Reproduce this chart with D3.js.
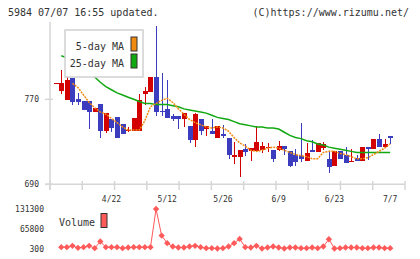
<!DOCTYPE html>
<html>
<head>
<meta charset="utf-8">
<script src="https://cdn.jsdelivr.net/npm/d3@7"></script>
<style>
  html, body { margin: 0; padding: 0; background: #fff; }
  svg { display: block; font-family: "DejaVu Sans Mono", monospace; }
</style>
</head>
<body>
<div id="chart"></div>
<script>
// daily prices, oldest first (61 sessions)
const open  = [785,778,769,790,770,768,768,758,766,740,751,753,747,740,740,740,775,777,791,759,761,754,754,751,745,732,751,742,740,734,737,734,716,716,723,721,721,722,724,722,722,726,721,718,717,712,722,720,724,714,707,721,718,711,715,712,725,723,733,725,735];
const high  = [785,798,793,790,776,768,768,762,766,757,751,753,747,744,752,775,782,791,839,795,788,756,754,757,745,757,751,745,751,745,746,734,730,722,728,724,745,730,729,722,731,726,721,723,748,729,732,729,730,721,721,721,725,723,718,725,725,733,737,733,735];
const low   = [785,775,769,765,765,760,742,758,734,738,739,734,737,739,740,740,765,777,754,754,752,750,742,744,729,725,736,735,737,734,734,714,709,697,717,712,721,719,720,711,721,718,706,707,711,712,720,720,722,701,707,714,710,711,712,712,713,723,725,725,728];
const close = [785,785,788,767,767,760,758,762,740,757,743,734,737,741,752,769,778,791,758,758,752,751,751,757,732,756,740,745,737,745,735,718,718,722,720,724,730,726,725,714,726,723,707,711,714,719,720,729,728,706,721,714,710,712,712,725,723,733,725,728,734];

// moving averages (null = not drawn)
const ma5  = [null,null,null,785,781,774,767,762,758,756,752,748,744,741,741,741,750,763,766,769,771,767,761,756,751,748,746,744,743,744,743,740,734,729,726,722,721,722,724,725,724,722,720,718,717,716,714,714,720,721,721,719,718,716,714,714,715,718,721,724,728];
const ma25 = [null,811,809,806,802,798,795,791,786,782,779,776,774,772,770,768,766,766,765,765,765,764,763,761,760,759,758,757,755,753,752,751,749,747,746,745,744,744,743,743,742,739,736,734,733,731,730,728,727,725,724,723,722,721,720,720,720,720,720,720,720];

// traded volume (null = no marker)
const volume = [null,4700,4700,9100,2500,4700,9100,1400,23400,4700,4700,4700,1400,3600,4700,4700,4700,4700,131300,43200,17900,6900,3600,3600,6900,9100,4700,1400,1400,300,1400,6900,17900,32200,4700,3600,9100,300,3600,6900,3600,300,3600,3600,1400,1400,3600,1400,6900,31100,300,1400,3600,3600,3600,1400,1400,3600,3600,1400,1400];

// x labels sit on every 10th session
const tickIndex  = [10, 20, 30, 40, 50, 60];
const tickLabels = ['4/22', '5/12', '5/26', '6/9', '6/23', '7/7'];
const priceTicks = [690, 770];

const W = 420, H = 259;
const RED = '#d20000', BLUE = '#3c3cbe', GRID = '#d6d6d6';

const svg = d3.select('#chart').append('svg')
  .attr('width', W).attr('height', H);

// header
svg.append('text').attr('x', 8).attr('y', 16)
  .attr('font-size', 10).attr('fill', '#333')
  .text('5984 07/07 16:55 updated.');
svg.append('text').attr('x', 409).attr('y', 16)
  .attr('font-size', 10).attr('fill', '#333').attr('text-anchor', 'end')
  .text('(C)https://www.rizumu.net/');

const x = d3.scaleLinear().domain([0, 60]).range([55.7, 390.2]);
const y = d3.scaleLinear().domain([690, 770]).range([184.3, 99.3]);
const yv = d3.scaleLinear().domain([300, 131300]).range([248.5, 209]);

// frame: left line, bottom line, short ticks
const frame = svg.append('g').attr('stroke', GRID).attr('stroke-width', 1.5);
frame.append('line').attr('x1', 50).attr('x2', 50).attr('y1', 22).attr('y2', 190);
frame.append('line').attr('x1', 45).attr('x2', 405).attr('y1', y(690)).attr('y2', y(690));
frame.selectAll('.yt').data(priceTicks).enter().append('line')
  .attr('x1', 45).attr('x2', 53).attr('y1', d => y(d)).attr('y2', d => y(d));
const gx = d3.scaleLinear().domain([0, 11]).range([50, 405]);
frame.selectAll('.xt').data(d3.range(12)).enter().append('line')
  .attr('x1', d => gx(d)).attr('x2', d => gx(d)).attr('y1', 181).attr('y2', 190);

svg.selectAll('.ylab').data(priceTicks).enter().append('text')
  .attr('x', 39).attr('y', d => y(d) + 3)
  .attr('text-anchor', 'end').attr('font-size', 8).attr('fill', '#333')
  .text(d => d);

svg.selectAll('.xlab').data(tickIndex).enter().append('text')
  .attr('x', d => x(d)).attr('y', 202)
  .attr('text-anchor', 'middle').attr('font-size', 8).attr('fill', '#333')
  .text((d, i) => tickLabels[i]);

// candles
const candles = svg.append('g').attr('shape-rendering', 'crispEdges');
const idx = d3.range(open.length);
const col = i => close[i] >= open[i] ? RED : BLUE;
candles.selectAll('.wick').data(idx).enter().append('line')
  .attr('x1', i => Math.round(x(i)) + 0.5).attr('x2', i => Math.round(x(i)) + 0.5)
  .attr('y1', i => y(high[i])).attr('y2', i => y(low[i]))
  .attr('stroke', col);
candles.selectAll('.body').data(idx).enter().append('rect')
  .attr('x', i => Math.round(x(i)) - 2)
  .attr('y', i => y(Math.max(open[i], close[i])))
  .attr('width', 5)
  .attr('height', i => Math.max(1, Math.abs(y(open[i]) - y(close[i]))))
  .attr('fill', col);

// moving averages
const maLine = d3.line()
  .defined(d => d != null)
  .x((d, i) => x(i)).y(d => y(d));
svg.append('path').datum(ma25).attr('d', maLine)
  .attr('fill', 'none').attr('stroke', '#12a812').attr('stroke-width', 1.5);
svg.append('path').datum(ma5).attr('d', maLine)
  .attr('fill', 'none').attr('stroke', '#f08a10').attr('stroke-width', 1.5)
  .attr('stroke-dasharray', '2,1');

// price legend
const lg = svg.append('g');
lg.append('rect').attr('x', 65).attr('y', 30).attr('width', 78).attr('height', 47)
  .attr('fill', '#fff').attr('stroke', '#d0d0d0').attr('stroke-width', 1.5);
[['5-day MA', '#f08a10', 50], ['25-day MA', '#12a812', 67]].forEach(([label, c, ty]) => {
  lg.append('text').attr('x', 124).attr('y', ty).attr('text-anchor', 'end')
    .attr('font-size', 10).attr('fill', '#333').text(label);
  lg.append('rect').attr('x', 131).attr('y', ty - 13).attr('width', 6).attr('height', 14)
    .attr('fill', c).attr('stroke', '#333');
});

// volume panel
svg.selectAll('.vlab').data([131300, 65800, 300]).enter().append('text')
  .attr('x', 44).attr('y', d => yv(d) + 3)
  .attr('text-anchor', 'end').attr('font-size', 8).attr('fill', '#333')
  .text(d => d);

const VOL = '#ff5a5a';
svg.append('path').datum(volume)
  .attr('d', d3.line().defined(d => d != null).x((d, i) => x(i)).y(d => yv(d)))
  .attr('fill', 'none').attr('stroke', VOL).attr('stroke-width', 1);
const diamond = d3.symbol(d3.symbolSquare, 20);
svg.selectAll('.vpt').data(idx.filter(i => volume[i] != null)).enter().append('path')
  .attr('d', diamond)
  .attr('transform', i => `translate(${x(i)},${yv(volume[i])}) rotate(45)`)
  .attr('fill', VOL);

svg.append('text').attr('x', 59).attr('y', 225.5)
  .attr('font-size', 10).attr('fill', '#333').text('Volume');
svg.append('rect').attr('x', 101).attr('y', 213.5).attr('width', 6).attr('height', 14)
  .attr('fill', VOL).attr('stroke', '#333');
</script>
</body>
</html>
